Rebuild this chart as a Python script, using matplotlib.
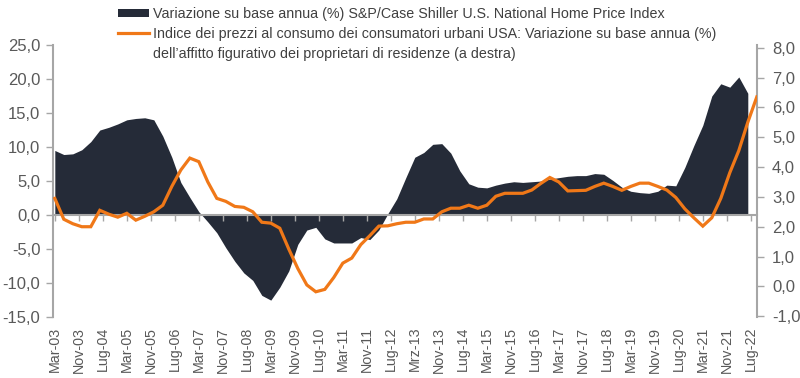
import matplotlib.pyplot as plt
from matplotlib.patches import Patch
from matplotlib.lines import Line2D

plt.rcParams['font.family'] = ['Liberation Sans', 'DejaVu Sans']

# ===============================
# Data (quarterly readings, x in months from Mar-03)
# ===============================
tick_labels = [
    "Mar-03", "Nov-03", "Lug-04", "Mar-05", "Nov-05", "Lug-06", "Mar-07", "Nov-07",
    "Lug-08", "Mar-09", "Nov-09", "Lug-10", "Mar-11", "Nov-11", "Lug-12", "Mrz-13",
    "Nov-13", "Lug-14", "Mar-15", "Nov-15", "Lug-16", "Mar-17", "Nov-17", "Lug-18",
    "Mar-19", "Nov-19", "Lug-20", "Mar-21", "Nov-21", "Lug-22",
]
tick_months = list(range(0, 233, 8))

# S&P/Case Shiller national index, YoY % (left axis)
case_shiller = [
    9.5, 8.9, 9.0, 9.6, 10.8, 12.5, 12.9, 13.4, 14.0, 14.2,
    14.3, 14.0, 11.6, 8.5, 4.8, 2.6, 0.5, -1.0, -2.6, -4.8,
    -6.8, -8.5, -9.6, -11.8, -12.5, -10.6, -8.2, -4.3, -2.2, -1.8,
    -3.5, -4.1, -4.1, -4.1, -3.3, -3.6, -2.2, 0.2, 2.4, 5.5,
    8.5, 9.2, 10.4, 10.5, 9.1, 6.5, 4.6, 4.1, 4.0, 4.4,
    4.7, 4.9, 4.8, 4.9, 5.0, 5.3, 5.5, 5.7, 5.8, 5.8,
    6.1, 6.0, 5.1, 4.1, 3.5, 3.3, 3.2, 3.5, 4.4, 4.3,
    7.0, 10.2, 13.2, 17.5, 19.3, 18.8, 20.3, 17.9,
]
cs_months = [3 * i for i in range(len(case_shiller))]

# CPI owners' equivalent rent, YoY % (right axis)
oer = [
    2.95, 2.25, 2.1, 2.0, 2.0, 2.55, 2.42, 2.32, 2.45, 2.22,
    2.35, 2.5, 2.72, 3.35, 3.9, 4.3, 4.18, 3.5, 2.95, 2.85,
    2.68, 2.65, 2.5, 2.15, 2.12, 1.95, 1.25, 0.6, 0.05, -0.18,
    -0.1, 0.3, 0.78, 0.95, 1.4, 1.7, 2.02, 2.03, 2.1, 2.15,
    2.15, 2.26, 2.26, 2.5, 2.62, 2.62, 2.72, 2.62, 2.72, 3.02,
    3.12, 3.12, 3.12, 3.23, 3.45, 3.65, 3.5, 3.2, 3.21, 3.22,
    3.35, 3.46, 3.35, 3.22, 3.35, 3.46, 3.46, 3.35, 3.23, 2.98,
    2.6, 2.3, 2.02, 2.3, 2.95, 3.81, 4.55, 5.5, 6.35,
]
oer_months = [3 * i for i in range(len(oer))]

label_cs = "Variazione su base annua (%) S&P/Case Shiller U.S. National Home Price Index"
label_oer_1 = "Indice dei prezzi al consumo dei consumatori urbani USA: Variazione su base annua (%)"
label_oer_2 = "dell\u2019affitto figurativo dei proprietari di residenze (a destra)"

# ===============================
# Style
# ===============================
dark = "#252b38"
orange = "#f07818"
axis_gray = "#a6a6a6"
text_gray = "#595959"

fig = plt.figure(figsize=(8.0, 3.78), dpi=100)
ax = fig.add_axes([0.066, 0.161, 0.88, 0.72])
ax2 = ax.twinx()

ax.fill_between(cs_months, case_shiller, 0, color=dark, linewidth=0, zorder=1)
ax2.plot(oer_months, oer, color=orange, linewidth=2.3, solid_joinstyle='miter', zorder=3)

ax.set_xlim(-0.67, 234)
ax.set_ylim(-15, 25)
ax.set_yticks(range(-15, 26, 5))
ax.set_yticklabels([f"{v:.1f}".replace(".", ",") for v in range(-15, 26, 5)])
ax2.set_ylim(-1.03, 8.09)
ax2.set_yticks(range(-1, 9))
ax2.set_yticklabels([f"{v:.1f}".replace(".", ",") for v in range(-1, 9)])

# x axis line at zero, labels at the bottom
ax.spines['bottom'].set_position(('data', 0))
ax.set_xticks(tick_months)
ax.set_xticklabels([])
ax.tick_params(axis='x', direction='out', length=4, width=1, color=axis_gray)
ax.spines['bottom'].set_zorder(2)

sec = ax.secondary_xaxis(0.0)
sec.set_xticks(tick_months)
sec.set_xticklabels(tick_labels, rotation=90, fontsize=10.3, color=text_gray)
sec.tick_params(axis='x', length=0, pad=7)
sec.spines['bottom'].set_visible(False)

for a in (ax, ax2):
    a.spines['top'].set_visible(False)
    for side in ('left', 'right', 'bottom'):
        a.spines[side].set_color(axis_gray)
        a.spines[side].set_linewidth(1.5)
ax.spines['right'].set_visible(False)
ax2.spines['left'].set_visible(False)
ax2.spines['bottom'].set_visible(False)

ax.tick_params(axis='y', direction='out', length=5, width=1, color=axis_gray,
               labelsize=12, labelcolor=text_gray, pad=4)
ax2.tick_params(axis='y', direction='out', length=5, width=1, color=axis_gray,
                labelsize=12, labelcolor=text_gray, pad=6)

# ===============================
# Legend
# ===============================
handles = [
    Patch(facecolor=dark, edgecolor='none'),
    Line2D([], [], color=orange, linewidth=2.3),
    Line2D([], [], linestyle='none'),
]
leg = fig.legend(
    handles, [label_cs, label_oer_1, label_oer_2],
    loc='upper left', bbox_to_anchor=(0.1475, 0.982), frameon=False,
    fontsize=10.3, handlelength=2.2, handleheight=0.45, handletextpad=0.25,
    labelspacing=0.42, borderpad=0, borderaxespad=0, labelcolor='#404040',
)

fig.savefig("out.png", dpi=100)
